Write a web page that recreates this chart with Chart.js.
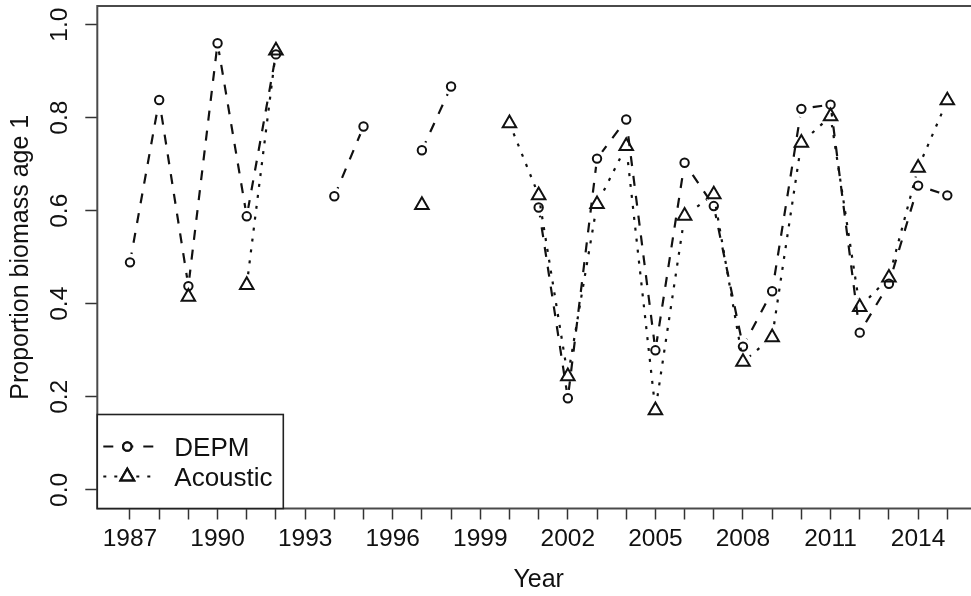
<!DOCTYPE html>
<html>
<head>
<meta charset="utf-8">
<script src="https://cdn.jsdelivr.net/npm/chart.js@4/dist/chart.umd.min.js"></script>
<style>
  html, body { margin: 0; padding: 0; background: #fff; overflow: hidden; }
  #wrap { position: absolute; left: 0; top: 0; width: 971px; height: 596px; overflow: hidden; }
  canvas { display: block; }
</style>
</head>
<body>
<div id="wrap"><canvas id="chart" width="990" height="596"></canvas></div>
<script>
// Survey years
const years = [1987, 1988, 1989, 1990, 1991, 1992, 1993, 1994, 1995, 1996, 1997,
               1998, 1999, 2000, 2001, 2002, 2003, 2004, 2005, 2006, 2007, 2008,
               2009, 2010, 2011, 2012, 2013, 2014, 2015];

// Proportion of biomass at age 1, DEPM estimates (null = no survey)
const depm = [0.489, 0.838, 0.438, 0.960, 0.588, 0.936, null, 0.631, 0.781, null, 0.730,
              0.867, null, null, 0.607, 0.197, 0.712, 0.796, 0.300, 0.703, 0.610, 0.308,
              0.427, 0.819, 0.828, 0.338, 0.443, 0.654, 0.633];

// Proportion of biomass at age 1, acoustic survey estimates
const acoustic = [null, null, 0.415, null, 0.440, 0.944, null, null, null, null, 0.612,
                  null, null, 0.788, 0.633, 0.244, 0.614, 0.739, 0.171, 0.589, 0.635, 0.275,
                  0.328, 0.746, 0.803, 0.393, 0.456, 0.692, 0.837];

// Axis ticks
const xTicks = years.slice();
const xLabelYears = [1987, 1990, 1993, 1996, 1999, 2002, 2005, 2008, 2011, 2014];
const yTicks = [0.0, 0.2, 0.4, 0.6, 0.8, 1.0];

const seriesNames = ['DEPM', 'Acoustic'];

const FONT = "'Liberation Sans', Arial, sans-serif";
const INK = '#111111';
const DEPM_DASH = [10, 10];
const AC_DASH = [3, 8];

const toXY = arr => years.map((yr, i) => ({ x: yr, y: arr[i] }));

// Leaves a small blank around each point of a line series (like type "b" plots)
const gapPlugin = {
  id: 'pointGaps',
  beforeDatasetDraw(chart, args) {
    const ds = chart.data.datasets[args.index];
    if (!ds.gapRadius) return;
    const ctx = chart.ctx;
    const r = ds.gapRadius;
    ctx.save();
    ctx.beginPath();
    ctx.rect(0, 0, chart.width, chart.height);
    args.meta.data.forEach(p => {
      if (p.skip || p.y == null || isNaN(p.y)) return;
      ctx.moveTo(p.x + r, p.y);
      ctx.arc(p.x, p.y, r, 0, Math.PI * 2);
    });
    ctx.clip('evenodd');
  },
  afterDatasetDraw(chart, args) {
    const ds = chart.data.datasets[args.index];
    if (!ds.gapRadius) return;
    chart.ctx.restore();
  }
};

// Box around the plotting region plus the legend in its lower-left corner
const framePlugin = {
  id: 'frameAndLegend',
  afterDraw(chart) {
    const { ctx, chartArea: a } = chart;
    ctx.save();
    ctx.strokeStyle = '#4a4a4a';
    ctx.lineWidth = 2;
    ctx.strokeRect(a.left, a.top, a.right - a.left, a.bottom - a.top);

    // legend box
    const lx = a.left, lw = 186, lh = 94, ly = a.bottom - lh;
    ctx.fillStyle = '#ffffff';
    ctx.fillRect(lx, ly, lw, lh);
    ctx.strokeStyle = '#222222';
    ctx.lineWidth = 1.6;
    ctx.strokeRect(lx, ly, lw, lh);

    const rows = [
      { name: seriesNames[0], y: ly + 32, dash: DEPM_DASH, style: 'circle', r: 4.2 },
      { name: seriesNames[1], y: ly + 62, dash: AC_DASH, style: 'triangle', r: 7.8 }
    ];
    rows.forEach(row => {
      ctx.strokeStyle = INK;
      ctx.lineWidth = 2.2;
      ctx.setLineDash(row.dash);
      ctx.beginPath();
      ctx.moveTo(lx + 6, row.y);
      ctx.lineTo(lx + 56, row.y);
      ctx.stroke();
      ctx.setLineDash([]);
      ctx.fillStyle = '#ffffff';
      Chart.helpers.drawPoint(ctx, { pointStyle: row.style, radius: row.r, borderWidth: 2, rotation: 0 },
                              lx + 30, row.y);
      ctx.fill();
      ctx.stroke();
      ctx.fillStyle = INK;
      ctx.font = '26px ' + FONT;
      ctx.textAlign = 'left';
      ctx.textBaseline = 'middle';
      ctx.fillText(row.name, lx + 77, row.y + 2);
    });
    ctx.restore();
  }
};

new Chart(document.getElementById('chart'), {
  type: 'line',
  data: {
    datasets: [
      { label: 'DEPM line', data: toXY(depm), borderColor: INK, borderWidth: 2.2,
        borderDash: DEPM_DASH, pointRadius: 0, spanGaps: false, tension: 0,
        fill: false, order: 3, gapRadius: 8.5 },
      { label: 'Acoustic line', data: toXY(acoustic), borderColor: INK, borderWidth: 2.2,
        borderDash: AC_DASH, pointRadius: 0, spanGaps: false, tension: 0,
        fill: false, order: 4, gapRadius: 9 },
      { label: seriesNames[0], data: toXY(depm), showLine: false, pointStyle: 'circle',
        pointRadius: 4.2, pointBorderWidth: 2, pointBorderColor: INK,
        pointBackgroundColor: 'rgba(0,0,0,0)', order: 1 },
      { label: seriesNames[1], data: toXY(acoustic), showLine: false, pointStyle: 'triangle',
        pointRadius: 7.8, pointBorderWidth: 2, pointBorderColor: INK,
        pointBackgroundColor: 'rgba(0,0,0,0)', order: 2 }
    ]
  },
  options: {
    responsive: false,
    devicePixelRatio: 1,
    animation: false,
    events: [],
    layout: { autoPadding: false, padding: { left: 0, top: 6, right: 10, bottom: 0 } },
    plugins: { legend: { display: false }, tooltip: { enabled: false } },
    scales: {
      x: {
        type: 'linear',
        min: 1985.88,
        max: 2016.12,
        afterBuildTicks: s => { s.ticks = xTicks.map(v => ({ value: v })); },
        afterFit: s => { s.height = 87.5; s.paddingLeft = 0; s.paddingRight = 0; },
        ticks: {
          autoSkip: false, maxRotation: 0, minRotation: 0, padding: 5,
          color: INK, font: { family: FONT, size: 24.5 },
          callback: v => (xLabelYears.includes(v) ? String(v) : '')
        },
        grid: { drawOnChartArea: false, drawTicks: true, tickLength: 11,
                tickColor: '#333333', tickWidth: 1.5 },
        border: { display: false },
        title: { display: true, text: 'Year', color: INK,
                 font: { family: FONT, size: 25 }, padding: { top: 0, bottom: 1 } }
      },
      y: {
        type: 'linear',
        min: -0.04,
        max: 1.04,
        afterBuildTicks: s => { s.ticks = yTicks.map(v => ({ value: v })); },
        afterFit: s => { s.width = 97.3; s.paddingTop = 0; s.paddingBottom = 0; },
        ticks: {
          minRotation: 90, maxRotation: 90, crossAlign: 'center', padding: 8,
          color: INK, font: { family: FONT, size: 24.5 },
          callback: v => v.toFixed(1)
        },
        grid: { drawOnChartArea: false, drawTicks: true, tickLength: 12,
                tickColor: '#333333', tickWidth: 1.5 },
        border: { display: false },
        title: { display: true, text: 'Proportion biomass age 1', color: INK,
                 font: { family: FONT, size: 25 }, padding: { top: 6, bottom: 0 } }
      }
    }
  },
  plugins: [gapPlugin, framePlugin]
});
</script>
</body>
</html>
